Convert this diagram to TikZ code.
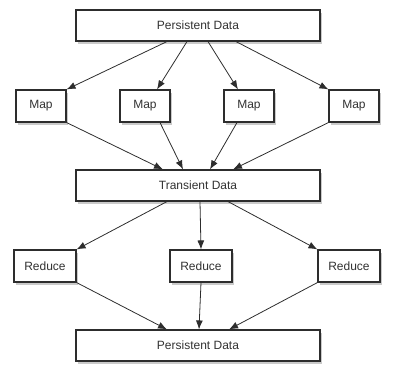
\documentclass[tikz,border=0pt]{standalone}
\usepackage{fontspec}
\setmainfont{Liberation Sans}
\usetikzlibrary{arrows.meta,positioning,shadows}
\definecolor{mrline}{RGB}{45,45,45}
\definecolor{mrtext}{RGB}{50,50,50}
\tikzset{
  mrbox/.style={
    draw=mrline, line width=1.1pt, fill=white, text=mrtext,
    font=\fontsize{12}{14}\selectfont, inner sep=0pt,
    drop shadow={shadow xshift=2pt, shadow yshift=-3pt, opacity=0.35, fill=black!60}
  },
  data/.style={mrbox, minimum width=244pt, minimum height=31pt},
  map/.style={mrbox, minimum width=50pt, minimum height=32pt},
  red/.style={mrbox, minimum width=62pt, minimum height=32pt},
  arr/.style={-{Latex[length=9pt,width=7pt]}, draw=mrline, line width=0.8pt}
}
\begin{document}
\begin{tikzpicture}[x=1pt,y=1pt]
  \useasboundingbox (0,0) rectangle (400,-374);
  % data stores
  \node[data] (pd1) at (198,-25.5) {Persistent Data};
  \node[data] (td) at (198,-185.5) {Transient Data};
  \node[data] (pd2) at (198,-345.5) {Persistent Data};
  % map tasks
  \node[map] (map1) at (41,-106) {Map};
  \node[map] (map2) at (145,-106) {Map};
  \node[map] (map3) at (249,-106) {Map};
  \node[map] (map4) at (354,-106) {Map};
  % reduce tasks
  \node[red] (red1) at (45,-266) {Reduce};
  \node[red] (red2) at (201,-266) {Reduce};
  \node[red] (red3) at (349,-266) {Reduce};
  % persistent data -> map
  \draw[arr] ([xshift=-31pt]pd1.south) -- (map1.north east);
  \draw[arr] ([xshift=-11pt]pd1.south) -- ([xshift=12pt]map2.north);
  \draw[arr] ([xshift=10pt]pd1.south) -- ([xshift=-11pt]map3.north);
  \draw[arr] ([xshift=38pt]pd1.south) -- (map4.north west);
  % map -> transient data
  \draw[arr] (map1.south east) -- ([xshift=-35pt]td.north);
  \draw[arr] ([xshift=15pt]map2.south) -- ([xshift=-15pt]td.north);
  \draw[arr] ([xshift=-12pt]map3.south) -- ([xshift=12pt]td.north);
  \draw[arr] (map4.south west) -- ([xshift=35pt]td.north);
  % transient data -> reduce
  \draw[arr] ([xshift=-31pt]td.south) -- (red1.north east);
  \draw[arr] ([xshift=2pt]td.south) -- (red2.north);
  \draw[arr] ([xshift=30pt]td.south) -- (red3.north west);
  % reduce -> persistent data
  \draw[arr] (red1.south east) -- ([xshift=-31pt]pd2.north);
  \draw[arr] (red2.south) -- ([xshift=1pt]pd2.north);
  \draw[arr] (red3.south west) -- ([xshift=31pt]pd2.north);
\end{tikzpicture}
\end{document}
